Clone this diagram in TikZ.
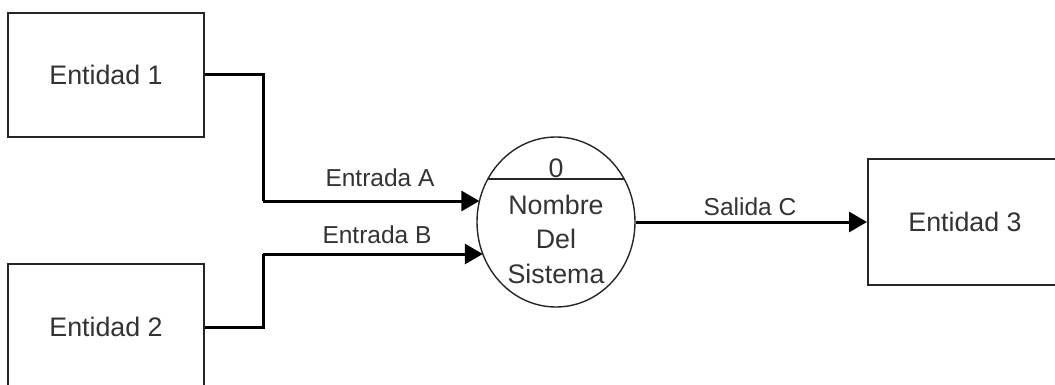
\documentclass[tikz,border=0pt]{standalone}
\usepackage{fontspec}
\setmainfont{Liberation Sans}
\usetikzlibrary{arrows.meta,shapes.geometric,calc}
\begin{document}
\begin{tikzpicture}[x=1pt,y=-1pt,
  entity/.style={draw=black!85,line width=2pt,rectangle,inner sep=0pt,
    text=black!80,font=\fontsize{26.8}{32}\selectfont},
  proc/.style={draw=black!85,line width=1.4pt,ellipse,inner sep=0pt,
    minimum width=158pt,minimum height=170pt},
  ptext/.style={text=black!80,font=\fontsize{26.8}{34.5}\selectfont,align=center,inner sep=0pt},
  flow/.style={draw=black,line width=3pt,-{Triangle[length=18pt,width=20pt]}},
  link/.style={draw=black,line width=3pt},
  lbl/.style={text=black!80,font=\fontsize{24.5}{29}\selectfont,inner sep=0pt}]
\path[use as bounding box] (0,0) rectangle (1055,385);
\clip (0,0) rectangle (1055,385);
\fill[white] (0,0) rectangle (1055,385);
% entities
\node[entity,minimum width=196pt,minimum height=124pt] (e1) at (106,75) {Entidad 1};
\node[entity,minimum width=196pt,minimum height=126pt] (e2) at (106,327) {Entidad 2};
\node[entity,minimum width=194pt,minimum height=126pt] (e3) at (965,222) {Entidad 3};
% process
\node[proc] (p) at (556,222) {};
\coordinate (pl) at ($(p.center)+(-68,-43)$);
\coordinate (pr) at ($(p.center)+(68,-43)$);
\draw[draw=black!85,line width=2.2pt] (pl) -- (pr);
\node[ptext,anchor=south] (pnum) at ($(p.center)+(0,-44.5)$) {0};
\node[ptext] (pname) at (556,239) {Nombre\\Del\\Sistema};
% connector points
\coordinate (b1) at (263,0);
\coordinate (ta) at ($(p.center)+(-76.6,-21)$);
\coordinate (tb) at ($(p.center)+(-73.2,32)$);
\draw[link,line join=miter] (e1.east) -| (b1 |- ta);
\draw[flow] (b1 |- ta) -- (ta);
\draw[link,line join=miter] (e2.east) -| (b1 |- tb);
\draw[flow] (b1 |- tb) -- (tb);
\draw[flow] (p.east) -- (e3.west);
% labels
\node[lbl] (la) at (380,178) {Entrada A};
\node[lbl] (lb) at (377,235) {Entrada B};
\node[lbl] (lc) at (750,207) {Salida C};
\end{tikzpicture}
\end{document}
